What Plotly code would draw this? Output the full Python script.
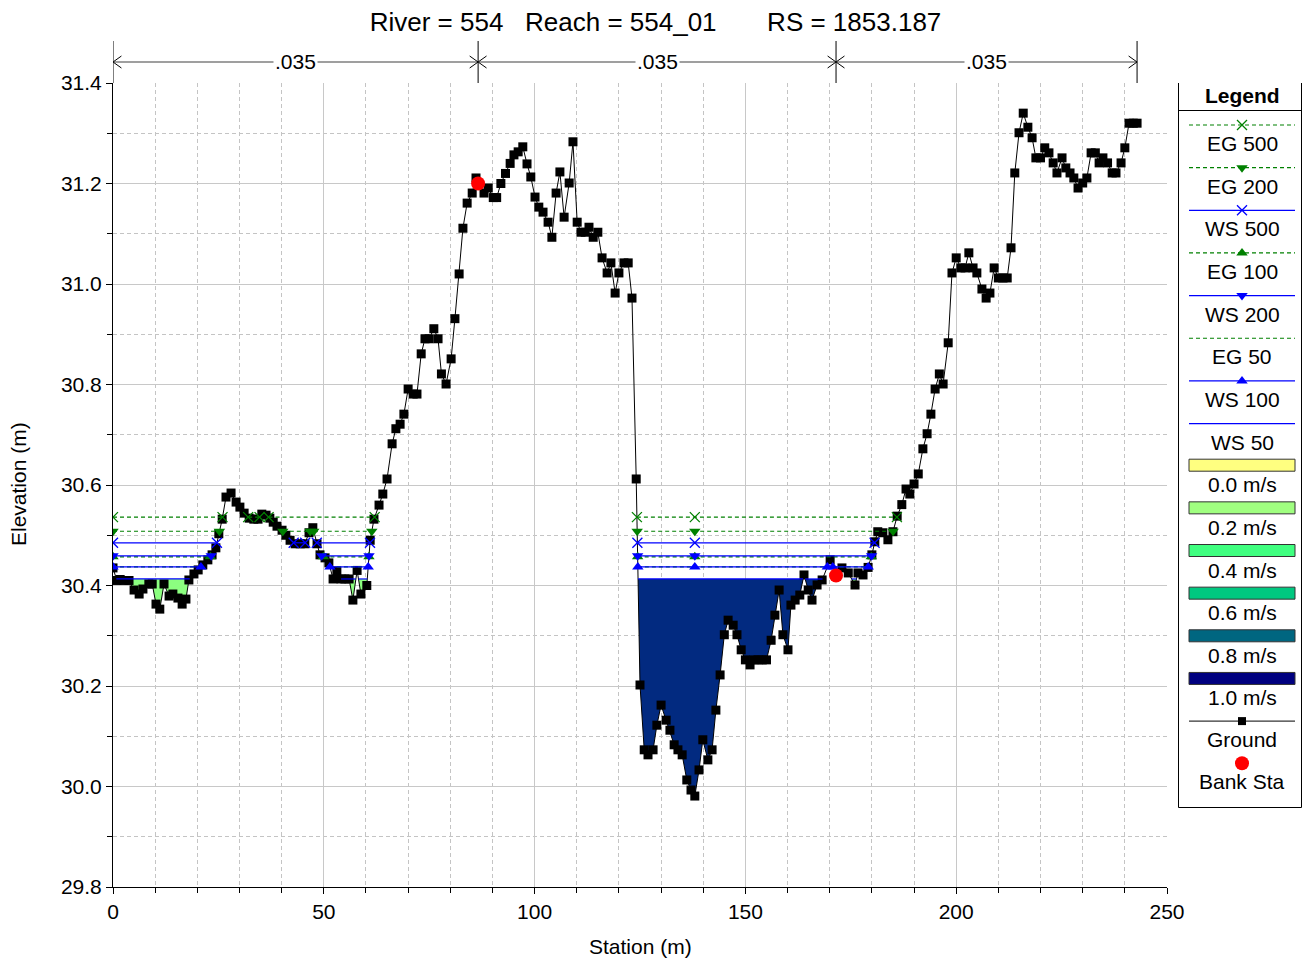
import plotly.graph_objects as go

# ---------------- DATA ----------------
station = [0.0, 0.9, 1.7, 2.6, 3.8, 5.0, 6.2, 7.1, 8.5, 9.3, 10.2, 11.1, 12.1, 13.3, 14.2, 15.4, 16.4, 17.3,
           18.0, 19.2, 20.2, 21.3, 22.5, 23.5, 24.4, 25.1, 25.9, 26.8, 28.0, 29.2, 30.1, 31.1, 32.3, 33.4,
           34.4, 35.3, 36.3, 37.2, 38.0, 38.9, 40.1, 41.0, 42.0, 43.2, 44.4, 45.5, 46.5, 47.4, 48.4, 49.1,
           50.3, 51.2, 52.2, 53.1, 54.1, 55.0, 56.0, 56.9, 57.9, 58.8, 60.2, 61.0, 61.9, 63.1, 64.0, 65.0,
           66.2, 67.1, 68.1, 69.0, 70.0, 71.2, 72.1, 73.1, 74.0, 75.0, 76.1, 77.1, 77.9, 79.0, 80.2, 81.1,
           82.1, 83.0, 84.0, 85.2, 86.1, 86.6, 88.0, 89.0, 90.2, 91.0, 92.0, 93.1, 94.2, 95.1, 96.1, 97.2,
           98.2, 99.1, 100.1, 101.0, 102.0, 103.2, 104.1, 105.1, 106.0, 107.0, 108.2, 109.1, 110.1, 111.0,
           112.0, 112.9, 113.9, 115.0, 116.0, 117.2, 118.1, 119.1, 120.0, 121.2, 122.2, 123.1, 124.1, 125.0,
           126.0, 126.9, 128.1, 129.0, 130.0, 131.2, 132.1, 133.1, 134.0, 135.0, 136.1, 137.1, 138.0, 139.0,
           139.9, 141.1, 142.1, 143.0, 144.0, 145.0, 145.9, 147.1, 148.0, 149.0, 150.0, 151.1, 152.0, 153.0,
           154.0, 155.0, 156.1, 157.0, 158.0, 158.9, 160.1, 160.8, 161.8, 162.9, 163.9, 164.9, 165.8, 167.0,
           168.2, 170.1, 171.5, 172.9, 174.4, 176.0, 176.7, 177.9, 179.1, 180.0, 180.7, 181.4, 182.6, 183.8,
           185.0, 186.0, 187.1, 188.1, 189.0, 190.0, 191.0, 192.1, 193.1, 194.0, 195.0, 196.0, 196.9, 198.1,
           199.0, 200.0, 201.1, 202.1, 203.0, 204.0, 204.9, 206.1, 207.1, 208.0, 209.0, 210.0, 211.1, 212.1,
           213.0, 213.9, 214.9, 215.9, 217.0, 218.0, 218.9, 220.0, 221.0, 222.0, 223.0, 223.9, 225.1, 226.0,
           227.0, 227.9, 228.9, 230.0, 231.0, 232.0, 233.0, 233.9, 234.8, 235.9, 237.0, 237.9, 239.1, 240.0,
           241.0, 242.0, 242.9]
elevation = [30.435, 30.41, 30.412, 30.41, 30.41, 30.391, 30.383, 30.393, 30.403, 30.403, 30.363, 30.353,
             30.403, 30.379, 30.383, 30.375, 30.363, 30.373, 30.411, 30.423, 30.431, 30.441, 30.451, 30.461,
             30.475, 30.503, 30.532, 30.576, 30.584, 30.566, 30.556, 30.544, 30.534, 30.532, 30.532, 30.542,
             30.54, 30.534, 30.526, 30.518, 30.51, 30.50, 30.49, 30.483, 30.483, 30.483, 30.505, 30.515,
             30.483, 30.461, 30.455, 30.445, 30.413, 30.429, 30.413, 30.413, 30.413, 30.371, 30.43, 30.383,
             30.40, 30.49, 30.532, 30.56, 30.582, 30.612, 30.682, 30.712, 30.721, 30.741, 30.791, 30.781,
             30.781, 30.861, 30.891, 30.891, 30.911, 30.891, 30.821, 30.801, 30.851, 30.931, 31.02, 31.111,
             31.161, 31.181, 31.211, 31.20, 31.181, 31.191, 31.172, 31.172, 31.20, 31.22, 31.24, 31.257,
             31.263, 31.273, 31.239, 31.213, 31.173, 31.153, 31.143, 31.123, 31.093, 31.181, 31.223, 31.133,
             31.201, 31.283, 31.123, 31.103, 31.103, 31.113, 31.093, 31.103, 31.052, 31.022, 31.042, 30.982,
             31.022, 31.042, 31.042, 30.972, 30.612, 30.202, 30.073, 30.063, 30.073, 30.122, 30.162, 30.132,
             30.112, 30.083, 30.073, 30.063, 30.013, 29.993, 29.981, 30.033, 30.093, 30.053, 30.073, 30.152,
             30.222, 30.302, 30.331, 30.321, 30.302, 30.272, 30.252, 30.242, 30.252, 30.252, 30.252, 30.252,
             30.291, 30.341, 30.391, 30.302, 30.272, 30.361, 30.371, 30.381, 30.421, 30.391, 30.371, 30.401,
             30.411, 30.451, 30.42, 30.435, 30.425, 30.401, 30.425, 30.421, 30.436, 30.461, 30.487, 30.507,
             30.505, 30.491, 30.507, 30.538, 30.561, 30.592, 30.582, 30.602, 30.622, 30.672, 30.702, 30.741,
             30.791, 30.821, 30.801, 30.883, 31.022, 31.052, 31.032, 31.032, 31.062, 31.032, 31.022, 30.99,
             30.972, 30.982, 31.032, 31.012, 31.012, 31.012, 31.072, 31.221, 31.301, 31.34, 31.312, 31.291,
             31.251, 31.251, 31.271, 31.261, 31.241, 31.221, 31.251, 31.231, 31.221, 31.211, 31.191, 31.201,
             31.211, 31.261, 31.261, 31.241, 31.251, 31.241, 31.221, 31.221, 31.241, 31.271, 31.32, 31.32,
             31.32]

bank_station = [86.6, 171.5]
bank_elevation = [31.20, 30.42]

profile_names = ["EG 500", "EG 200", "WS 500", "EG 100", "WS 200", "EG 50", "WS 100", "WS 50"]
profile_wsel = [30.536, 30.508, 30.485, 30.457, 30.459, 30.437, 30.437, 30.413]
marker_extra_station = 138.0

mannings_n_stations = [0.0, 86.6, 171.5, 242.9]
mannings_n_values = [".035", ".035", ".035"]

velocity_labels = ["0.0 m/s", "0.2 m/s", "0.4 m/s", "0.6 m/s", "0.8 m/s", "1.0 m/s"]

title_text = ("River = 554\u00a0\u00a0\u00a0Reach = 554_01"
              "\u00a0\u00a0\u00a0\u00a0\u00a0\u00a0\u00a0RS = 1853.187")

# ---------------- STYLES / LAYOUT CONSTANTS ----------------
FONT = "Liberation Sans, Arial, sans-serif"
GREEN = "#008000"
BLUE = "#0000FF"
velocity_colors = ["#FFFF80", "#A0FF80", "#40FF80", "#00C880", "#006680", "#000080"]
overbank_fill = "#8CFF80"
channel_fill = "#022A80"
styles = {
    "EG 500": dict(color=GREEN, dash="4px,3px", symbol="x-thin"),
    "EG 200": dict(color=GREEN, dash="4px,3px", symbol="triangle-down"),
    "WS 500": dict(color=BLUE, dash="solid", symbol="x-thin"),
    "EG 100": dict(color=GREEN, dash="4px,3px", symbol="triangle-up"),
    "WS 200": dict(color=BLUE, dash="solid", symbol="triangle-down"),
    "EG 50": dict(color=GREEN, dash="4px,3px", symbol=None),
    "WS 100": dict(color=BLUE, dash="solid", symbol="triangle-up"),
    "WS 50": dict(color=BLUE, dash="solid", symbol=None),
}

FIG_W, FIG_H = 1295, 950        # page adds an 8px body margin around the figure
ML, MR, MT, MB = 105, 1, 75, 71
PW = FIG_W - ML - MR            # paper width (px)
PH = FIG_H - MT - MB            # paper height (px) = plot height
PLOT_W = 1054


def wet_segments(st, el, ws):
    segs = []
    start = st[0] if el[0] <= ws else None
    for i in range(len(st) - 1):
        a, b = el[i] - ws, el[i + 1] - ws
        if a <= 0 and b > 0:
            x = st[i] + (st[i + 1] - st[i]) * (-a) / (b - a)
            if start is not None:
                segs.append((start, x))
            start = None
        elif a > 0 and b <= 0:
            start = st[i] + (st[i + 1] - st[i]) * a / (a - b)
    if start is not None:
        segs.append((start, st[-1]))
    return [s for s in segs if s[1] - s[0] > 0.05]


def marker_symbol(sym, color):
    if sym == "x-thin":
        return dict(symbol="x-thin", size=10, color=color, line=dict(width=1.3, color=color))
    return dict(symbol=sym, size=10, color=color, line=dict(width=0))


fig = go.Figure()

# velocity fill under lowest profile
ws_low = profile_wsel[profile_names.index("WS 50")]
for s0, s1 in wet_segments(station, elevation, ws_low):
    xs = [s0] + [s for s in station if s0 < s < s1] + [s1, s0]
    ys = [ws_low] + [e for s, e in zip(station, elevation) if s0 < s < s1] + [ws_low, ws_low]
    mid = 0.5 * (s0 + s1)
    col = channel_fill if bank_station[0] <= mid <= bank_station[1] else overbank_fill
    fig.add_trace(go.Scatter(x=xs, y=ys, mode="lines", fill="toself", fillcolor=col,
                             line=dict(width=0, color=col), hoverinfo="skip", showlegend=False))

# ground
fig.add_trace(go.Scatter(x=station, y=elevation, mode="lines+markers",
                         line=dict(color="black", width=1),
                         marker=dict(symbol="square", size=9, color="black"), showlegend=False))

# water surfaces / energy grades
draw_order = ["EG 500", "EG 200", "EG 100", "EG 50", "WS 500", "WS 200", "WS 100", "WS 50"]
for name in draw_order:
    ws = profile_wsel[profile_names.index(name)]
    stl = styles[name]
    segs = wet_segments(station, elevation, ws)
    xs, ys, mx = [], [], []
    for s0, s1 in segs:
        xs += [s0, s1, None]
        ys += [ws, ws, None]
        mx += [s0, s1]
        if s0 < marker_extra_station < s1:
            mx.append(marker_extra_station)
    fig.add_trace(go.Scatter(x=xs, y=ys, mode="lines",
                             line=dict(color=stl["color"], width=1.2, dash=stl["dash"]),
                             showlegend=False, hoverinfo="skip"))
    if stl["symbol"]:
        fig.add_trace(go.Scatter(x=mx, y=[ws] * len(mx), mode="markers",
                                 marker=marker_symbol(stl["symbol"], stl["color"]),
                                 showlegend=False, hoverinfo="skip"))

# bank stations
fig.add_trace(go.Scatter(x=bank_station, y=bank_elevation, mode="markers",
                         marker=dict(symbol="circle", size=14, color="#FF0000"), showlegend=False))

shapes = []
annotations = []


def py_paper(ref_y):
    # reference-picture pixel y -> paper fraction
    return (MT + PH - (ref_y - 8)) / PH


# Manning's n bar above plot
y_bar = py_paper(62)
y_top = py_paper(41)
for xb in mannings_n_stations:
    shapes.append(dict(type="line", xref="x", yref="paper", x0=xb, x1=xb, y0=1.0, y1=y_top,
                       line=dict(color="black", width=1)))
dy = 6 / PH
for i, nval in enumerate(mannings_n_values):
    a, b = mannings_n_stations[i], mannings_n_stations[i + 1]
    shapes.append(dict(type="line", xref="x", yref="paper", x0=a, x1=b, y0=y_bar, y1=y_bar,
                       line=dict(color="#7F7F7F", width=1.6)))
    shapes.append(dict(type="path", xref="x", yref="paper",
                       path=f"M {a+2.0},{y_bar+dy} L {a},{y_bar} L {a+2.0},{y_bar-dy}",
                       line=dict(color="black", width=1)))
    shapes.append(dict(type="path", xref="x", yref="paper",
                       path=f"M {b-2.0},{y_bar+dy} L {b},{y_bar} L {b-2.0},{y_bar-dy}",
                       line=dict(color="black", width=1)))
    annotations.append(dict(x=0.5 * (a + b), y=y_bar, xref="x", yref="paper", text=nval,
                            showarrow=False, bgcolor="white", font=dict(size=21, color="black", family=FONT),
                            xanchor="center", yanchor="middle", borderpad=1))

# axis titles
annotations.append(dict(x=0.5, y=py_paper(946), xref="x domain", yref="paper", text="Station (m)",
                        showarrow=False, font=dict(size=21, color="black", family=FONT),
                        xanchor="center", yanchor="middle"))
annotations.append(dict(x=(18 - 8 - ML) / PW, y=py_paper(484), xref="paper", yref="paper",
                        text="Elevation (m)",
                        showarrow=False, textangle=-90, font=dict(size=21, color="black", family=FONT),
                        xanchor="center", yanchor="middle"))

# ---------------- custom legend (own subplot, axes scaled in reference pixels) ----------------
LEG_L, LEG_R = 1178, FIG_W + 8 - MR  # reference px
LX0, LX1, LXC = 1189, 1295, 1242
shapes.append(dict(type="rect", xref="x2", yref="y2", x0=LEG_L + 0.5, x1=LEG_R - 0.5, y0=82.5, y1=807.5,
                   line=dict(color="black", width=1), fillcolor="white", layer="below"))
shapes.append(dict(type="line", xref="x2", yref="y2", x0=LEG_L + 0.5, x1=LEG_R - 0.5, y0=110.5, y1=110.5,
                   line=dict(color="black", width=1)))
annotations.append(dict(x=LXC, y=95, xref="x2", yref="y2", text="<b>Legend</b>", showarrow=False,
                        font=dict(size=21, color="black", family=FONT), xanchor="center", yanchor="middle"))

item_y0 = 125.0
step = 42.65
k = 0
for name in profile_names:
    stl = styles[name]
    ly = item_y0 + step * k
    fig.add_trace(go.Scatter(x=[LX0, LX1], y=[ly, ly], mode="lines", xaxis="x2", yaxis="y2",
                             line=dict(color=stl["color"], width=1.2, dash=stl["dash"]),
                             showlegend=False, hoverinfo="skip"))
    if stl["symbol"]:
        fig.add_trace(go.Scatter(x=[LXC], y=[ly], mode="markers", xaxis="x2", yaxis="y2",
                                 marker=marker_symbol(stl["symbol"], stl["color"]),
                                 showlegend=False, hoverinfo="skip"))
    annotations.append(dict(x=LXC, y=ly + 18.5, xref="x2", yref="y2", text=name, showarrow=False,
                            font=dict(size=21, color="black", family=FONT), xanchor="center", yanchor="middle"))
    k += 1
for lab, col in zip(velocity_labels, velocity_colors):
    ly = item_y0 + step * k - 1
    shapes.append(dict(type="rect", xref="x2", yref="y2", x0=LX0, x1=LX1, y0=ly - 6, y1=ly + 6,
                       line=dict(color="#333333", width=1), fillcolor=col))
    annotations.append(dict(x=LXC, y=ly + 19.5, xref="x2", yref="y2", text=lab, showarrow=False,
                            font=dict(size=21, color="black", family=FONT), xanchor="center", yanchor="middle"))
    k += 1
ly = item_y0 + step * k - 1
fig.add_trace(go.Scatter(x=[LX0, LX1], y=[ly, ly], mode="lines", xaxis="x2", yaxis="y2",
                         line=dict(color="black", width=1), showlegend=False, hoverinfo="skip"))
fig.add_trace(go.Scatter(x=[LXC], y=[ly], mode="markers", xaxis="x2", yaxis="y2",
                         marker=dict(symbol="square", size=8, color="black"), showlegend=False, hoverinfo="skip"))
annotations.append(dict(x=LXC, y=ly + 18, xref="x2", yref="y2", text="Ground", showarrow=False,
                        font=dict(size=21, color="black", family=FONT), xanchor="center", yanchor="middle"))
k += 1
ly = item_y0 + step * k - 1.5
fig.add_trace(go.Scatter(x=[LXC], y=[ly], mode="markers", xaxis="x2", yaxis="y2",
                         marker=dict(symbol="circle", size=14, color="#FF0000"), showlegend=False, hoverinfo="skip"))
annotations.append(dict(x=LXC, y=ly + 18.5, xref="x2", yref="y2", text="Bank Sta", showarrow=False,
                        font=dict(size=21, color="black", family=FONT), xanchor="center", yanchor="middle"))

fig.update_layout(
    width=FIG_W, height=FIG_H, autosize=False,
    margin=dict(l=ML, r=MR, t=MT, b=MB, autoexpand=False),
    paper_bgcolor="white", plot_bgcolor="white",
    font=dict(family=FONT, size=21, color="black"),
    title=dict(text=title_text, x=0.5, xref="container", xanchor="center",
               y=1 - 14 / FIG_H, yref="container", yanchor="middle",
               font=dict(size=26, color="black", family=FONT)),
    showlegend=False,
    shapes=shapes, annotations=annotations,
    xaxis=dict(domain=[0, PLOT_W / PW], range=[0, 250], tick0=0, dtick=50, automargin=False,
               showline=True, linecolor="black", linewidth=1,
               ticks="outside", ticklen=6, tickcolor="black",
               showgrid=True, gridcolor="#C8C8C8", gridwidth=1, zeroline=False,
               tickfont=dict(size=21, family=FONT, color="black"),
               minor=dict(dtick=10, tick0=0, ticks="outside", ticklen=5, tickcolor="black",
                          showgrid=True, gridcolor="#C4C4C4", griddash="4px,3px", gridwidth=1)),
    yaxis=dict(range=[29.8, 31.4], tick0=29.8, dtick=0.2, tickformat=".1f", automargin=False,
               showline=True, linecolor="black", linewidth=1,
               ticks="outside", ticklen=6, tickcolor="black",
               showgrid=True, gridcolor="#C8C8C8", gridwidth=1, zeroline=False,
               tickfont=dict(size=21, family=FONT, color="black"),
               minor=dict(dtick=0.1, tick0=29.8, ticks="outside", ticklen=5, tickcolor="black",
                          showgrid=True, gridcolor="#C4C4C4", griddash="4px,3px", gridwidth=1)),
    xaxis2=dict(domain=[(LEG_L - 8 - ML) / PW, 1.0], range=[LEG_L, LEG_R], visible=False,
                anchor="y2", fixedrange=True, automargin=False),
    yaxis2=dict(domain=[py_paper(808), 1.0], range=[808, 83], visible=False,
                anchor="x2", fixedrange=True, automargin=False),
)

fig.write_html("out.html")
